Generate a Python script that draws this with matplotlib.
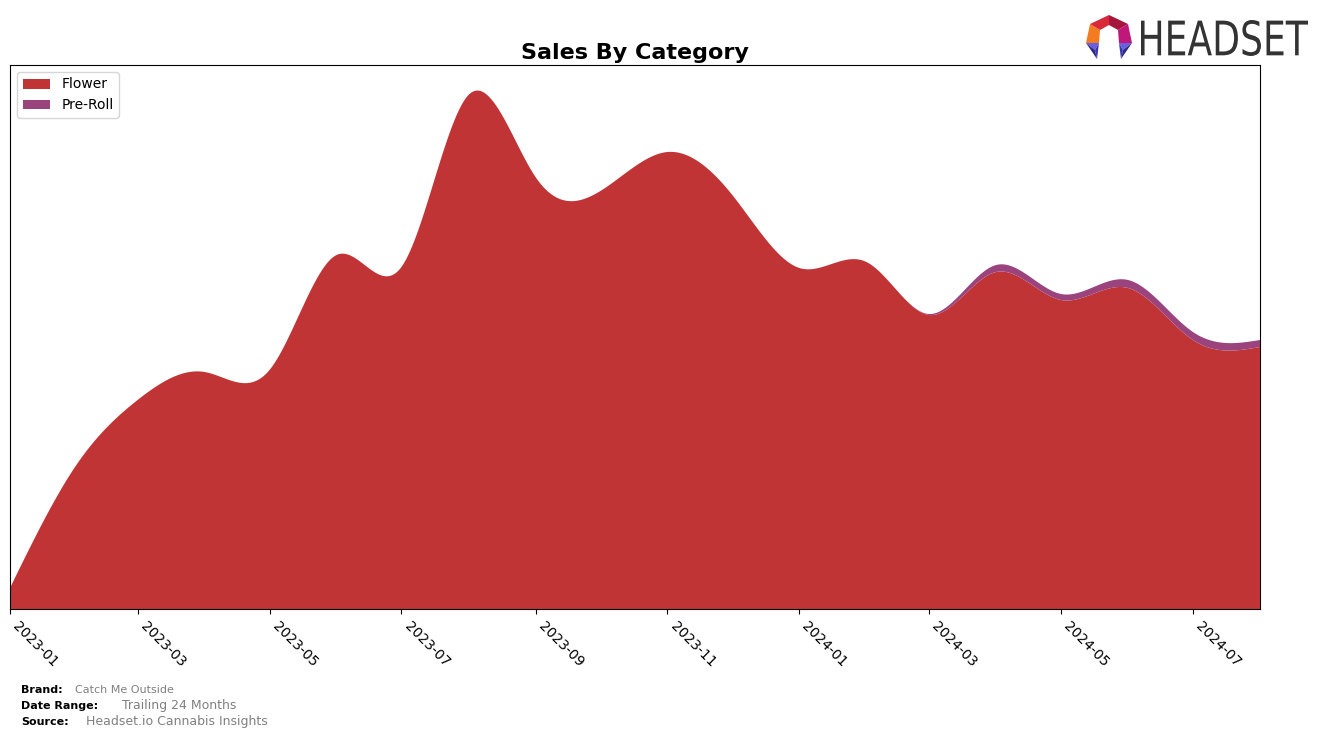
import numpy as np
import pandas as pd
import matplotlib
matplotlib.use("Agg")
import matplotlib.pyplot as plt
import matplotlib.dates as mdates
from matplotlib.patches import Polygon, PathPatch
from matplotlib.textpath import TextPath
from matplotlib.font_manager import FontProperties
from matplotlib.transforms import Affine2D

months = pd.date_range("2023-01-01", "2024-08-01", freq="MS")
flower = [21, 145, 209, 237, 239, 354, 342, 514, 432, 418, 457, 414, 341, 347, 294, 337, 309, 321, 269, 262]
preroll = [0, 0, 0, 0, 0, 0, 0, 0, 0, 0, 0, 0, 0, 0, 1, 7, 6, 8, 8, 7]
categories = ["Flower", "Pre-Roll"]
colors = ["#C13435", "#9A437D"]


def natural_spline(x, y, xs):
    x = np.asarray(x, float); y = np.asarray(y, float)
    n = len(x)
    h = np.diff(x)
    A = np.zeros((n, n)); b = np.zeros(n)
    A[0, 0] = 1; A[-1, -1] = 1
    for i in range(1, n - 1):
        A[i, i - 1] = h[i - 1]
        A[i, i] = 2 * (h[i - 1] + h[i])
        A[i, i + 1] = h[i]
        b[i] = 3 * ((y[i + 1] - y[i]) / h[i] - (y[i] - y[i - 1]) / h[i - 1])
    c = np.linalg.solve(A, b)
    out = np.empty_like(xs)
    idx = np.clip(np.searchsorted(x, xs) - 1, 0, n - 2)
    for k, (xv, i) in enumerate(zip(xs, idx)):
        bi = (y[i + 1] - y[i]) / h[i] - h[i] * (2 * c[i] + c[i + 1]) / 3
        di = (c[i + 1] - c[i]) / (3 * h[i])
        dx = xv - x[i]
        out[k] = y[i] + bi * dx + c[i] * dx ** 2 + di * dx ** 3
    return out


xnum = mdates.date2num(months)
xs = np.linspace(xnum[0], xnum[-1], 800)
f_s = np.clip(natural_spline(xnum, flower, xs), 0, None)
p_s = np.clip(natural_spline(xnum, preroll, xs), 0, None)

W, H = 1324, 738
fig = plt.figure(figsize=(W / 100, H / 100), dpi=100)
ax = fig.add_axes([10 / W, 1 - 609 / H, 1250 / W, 544 / H])
ax.stackplot(mdates.num2date(xs), f_s, p_s, colors=colors, labels=categories)
ax.set_xlim(mdates.num2date(xnum[0]), mdates.num2date(xnum[-1]))
ax.set_ylim(0, 544)
ax.set_yticks([])
ax.xaxis.set_major_locator(mdates.MonthLocator(bymonth=[1, 3, 5, 7, 9, 11]))
ax.xaxis.set_major_formatter(mdates.DateFormatter("%Y-%m"))
plt.setp(ax.get_xticklabels(), rotation=-45, ha="left", fontsize=10)
ax.set_title("Sales By Category", fontsize=16, fontweight="bold", pad=4)
ax.legend(loc="upper left", fontsize=10, handlelength=2)

fig.text(21 / W, 1 - 690 / H, "Brand:", fontsize=8, fontweight="bold", va="center")
fig.text(75 / W, 1 - 690 / H, "Catch Me Outside", fontsize=8, color="#808080", va="center")
fig.text(21 / W, 1 - 706 / H, "Date Range:", fontsize=8, fontweight="bold", va="center")
fig.text(122 / W, 1 - 706 / H, "Trailing 24 Months", fontsize=9, color="#808080", va="center")
fig.text(21 / W, 1 - 722 / H, "Source:", fontsize=8, fontweight="bold", va="center")
fig.text(86 / W, 1 - 722 / H, "Headset.io Cannabis Insights", fontsize=9, color="#808080", va="center")


def px(pts):
    return [(x / W, 1 - y / H) for x, y in pts]


# logo text, stretched to fit a box
tp = TextPath((0, 0), "HEADSET", size=10, prop=FontProperties(family="DejaVu Sans"))
ext = tp.get_extents()
x0, x1, ytop, ybot = 1141, 1308, 20, 56
sx = (x1 - x0) / ext.width / W
sy = (ybot - ytop) / ext.height / H
tr = Affine2D().translate(-ext.x0, -ext.y0).scale(sx, sy).translate(x0 / W, 1 - ybot / H) + fig.transFigure
fig.patches.append(PathPatch(tp, transform=tr, color="#333333", lw=0))

# logo icon
O = [(1086, 43), (1090, 24), (1109, 15), (1128, 24), (1132, 43)]
I = [(1099, 43), (1100, 30), (1109, 25), (1118, 30), (1119, 43)]
seg_cols = ["#F47B20", "#D8283A", "#A6153B", "#C0187A"]
for i in range(4):
    fig.patches.append(Polygon(px([O[i], O[i + 1], I[i + 1], I[i]]), closed=True,
                               transform=fig.transFigure, color=seg_cols[i], lw=0))
legs = [
    ([(1086, 43), (1099, 43), (1095, 50)], [(1095, 50), (1099, 43), (1097, 59)], [(1086, 43), (1095, 50), (1097, 59)]),
    ([(1132, 43), (1119, 43), (1123, 50)], [(1123, 50), (1119, 43), (1121, 59)], [(1132, 43), (1123, 50), (1121, 59)]),
]
for leg in legs:
    for poly, c in zip(leg, ["#6A5FE0", "#3B36B0", "#2C2A88"]):
        fig.patches.append(Polygon(px(poly), closed=True, transform=fig.transFigure, color=c, lw=0))

fig.savefig("out.png", dpi=100)
